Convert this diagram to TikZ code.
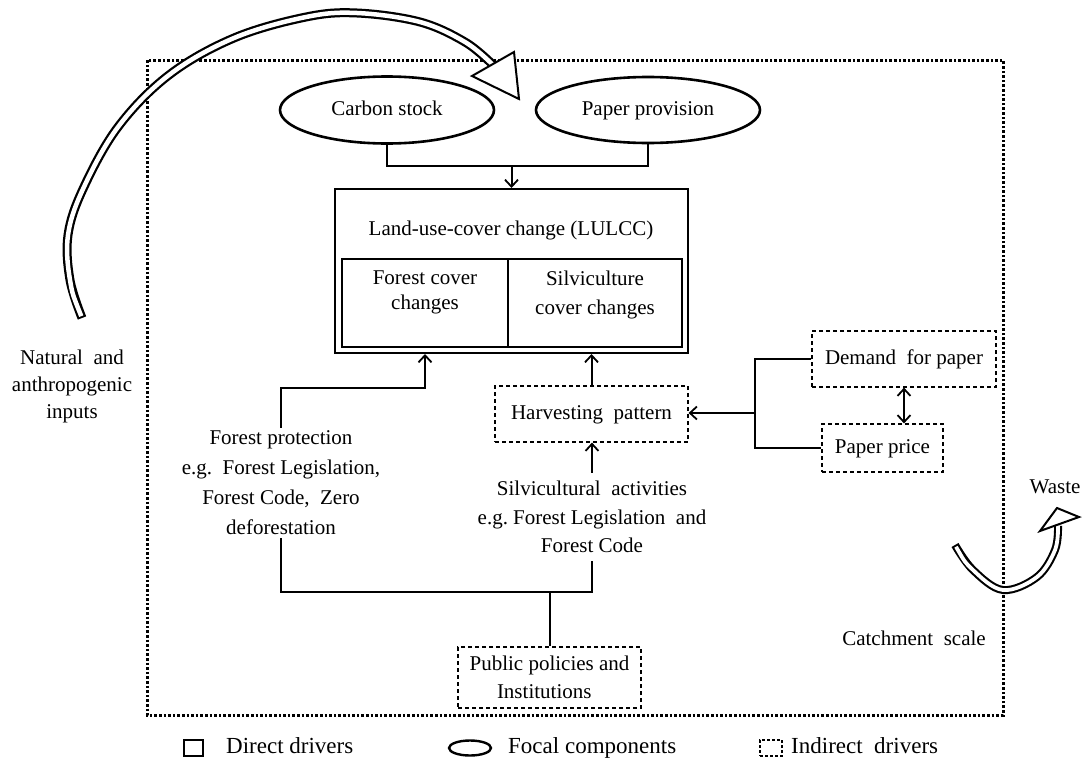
\documentclass[tikz,border=0pt]{standalone}
\usepackage{fontspec}
\setmainfont{Liberation Serif}
\usetikzlibrary{shapes.geometric,arrows.meta}
\begin{document}
\begin{tikzpicture}[x=1pt,y=-1pt,
    font=\fontsize{21}{30}\selectfont,
    focal/.style={draw,ellipse,line width=2.6pt,inner sep=0pt,text height=14pt,text depth=4pt},
    direct/.style={draw,rectangle,line width=2pt,inner sep=0pt},
    indirect/.style={draw,rectangle,dash pattern=on 4pt off 3pt,line width=1.2pt,inner sep=0pt,align=center},
    oneline/.style={text height=14pt,text depth=4pt},
    txt/.style={align=center,inner sep=0pt},
    legtxt/.style={anchor=west,inner sep=0pt,font=\fontsize{23}{28}\selectfont,text height=15pt,text depth=4pt},
    conn/.style={line width=2pt},
    arr/.style={conn,-{Straight Barb[length=7pt,width=13pt,line width=1.8pt]}},
    arrtwo/.style={conn,{Straight Barb[length=7pt,width=13pt,line width=1.8pt]}-{Straight Barb[length=7pt,width=13pt,line width=1.8pt]}},
    hollowout/.style={line width=9pt,line cap=butt},
    hollowin/.style={white,line width=4.5pt,line cap=butt},
    headbox/.style={draw,fill=white,line width=2pt,line join=miter}]
  \useasboundingbox (0,0) rectangle (1084,763);

  %catchment
  	\draw[line width=3pt,dash pattern=on 2.6pt off 2pt] (147,60) rectangle (1003,715);
  	\node[txt] (catch) at (914,638) {Catchment\ \ scale};

  %fokale komponenter
  	\node[focal,minimum width=214pt,minimum height=67pt] (carbon) at (387,110) {Carbon stock};
  	\node[focal,minimum width=224pt,minimum height=66pt] (paper) at (648,110) {Paper provision};

  %LULCC
  	\node[direct,minimum width=353pt,minimum height=164pt] (lulcc) at (511.5,271) {};
  	\node[txt] (lulcctitle) at (511,230) {Land-use-cover change (LULCC)};
  	\node[direct,minimum width=166pt,minimum height=88pt] (forestbox) at (425,303) {};
  	\node[direct,minimum width=174pt,minimum height=88pt] (silvibox) at (595,303) {};
  	\node[txt,font=\fontsize{21}{25}\selectfont] (forestlbl) at (425,292) {Forest cover\\changes};
  	\node[txt,font=\fontsize{21}{29}\selectfont] (silvilbl) at (595,295) {Silviculture\\cover changes};

  	\coordinate (jtop) at (511.5,166);
  	\draw[conn] (carbon.south) |- (jtop) -| (paper.south);
  	\draw[arr] (jtop) -- (lulcc.north);

  %indirekte drivere
  	\node[indirect,oneline,minimum width=193pt,minimum height=56pt] (harvest) at (591.5,414) {Harvesting\ \ pattern};
  	\node[indirect,oneline,minimum width=184pt,minimum height=56pt] (demand) at (904,359) {Demand\ \ for paper};
  	\node[indirect,oneline,minimum width=121pt,minimum height=48pt] (price) at (882.5,448) {Paper price};
  	\node[indirect,minimum width=183pt,minimum height=61pt,font=\fontsize{21}{28}\selectfont] (policy) at (549.5,677.5) {Public policies and\\Institutions\ \ \ };

  %direkte drivere
  	\node[txt,inner ysep=3pt] (protect) at (281,483) {Forest protection\\e.g.\ \ Forest Legislation,\\Forest Code,\ \ Zero\\deforestation};
  	\node[txt,font=\fontsize{21}{28.5}\selectfont,inner ysep=8pt] (silvi) at (592,517) {Silvicultural\ \ activities\\e.g.\ Forest Legislation\ \ and\\Forest Code};

  	\coordinate (fpbend) at (425,388);
  	\draw[arr] (protect.north) |- (fpbend) -- (fpbend |- lulcc.south);
  	\draw[arr] (harvest.north) -- (harvest.north |- lulcc.south);
  	\draw[arr] (silvi.north) -- (silvi.north |- harvest.south);

  	\coordinate (jbot) at (549.5,592);
  	\draw[conn] (protect.south) |- (jbot) -| (silvi.south);
  	\draw[conn] (jbot) -- (policy.north);

  	\coordinate (rbar) at (755,413);
  	\draw[conn] (demand.west) -| (rbar) |- (price.west);
  	\draw[arr] (rbar) -- (rbar -| harvest.east);
  	\draw[arrtwo] (demand.south) -- (demand.south |- price.north);

  %input og output
  	\node[txt,font=\fontsize{21}{27}\selectfont] (natural) at (72,386) {Natural\ \ and\\anthropogenic\\inputs};
  	\node[txt] (waste) at (1055,487) {Waste};

  	\draw[hollowout] plot[smooth,tension=0.6] coordinates {(82,318) (70,280) (68,235) (83,189) (118,127) (169,75) (234,38) (306,17) (357,13) (420,22) (465,42) (492,64)};
  	\draw[hollowin,shorten <=2pt] plot[smooth,tension=0.6] coordinates {(82,318) (70,280) (68,235) (83,189) (118,127) (169,75) (234,38) (306,17) (357,13) (420,22) (465,42) (492,64)};
  	\draw[headbox] (514,52) -- (519,99) -- (472,76) -- cycle;

  	\draw[hollowout,line width=8pt] plot[smooth,tension=0.6] coordinates {(955,545) (973,570) (1003,590) (1037,577) (1055,550) (1058,526)};
  	\draw[hollowin,line width=3.8pt,shorten <=2pt] plot[smooth,tension=0.6] coordinates {(955,545) (973,570) (1003,590) (1037,577) (1055,550) (1058,526)};
  	\draw[headbox] (1057,508) -- (1079,517) -- (1040,531) -- cycle;

  %forklaring
  	\node[direct,minimum width=19pt,minimum height=16pt] (legdirect) at (193,748) {};
  	\node[legtxt] (legdirecttxt) at (226,748) {Direct drivers};
  	\node[draw,ellipse,line width=2.4pt,minimum width=42pt,minimum height=15pt] (legfocal) at (470,748) {};
  	\node[legtxt] (legfocaltxt) at (508,748) {Focal components};
  	\node[indirect,minimum width=22pt,minimum height=16pt,dash pattern=on 3pt off 2pt] (legindirect) at (771,748) {};
  	\node[legtxt] (legindirecttxt) at (791,748) {Indirect\ \ drivers};
\end{tikzpicture}
\end{document}
